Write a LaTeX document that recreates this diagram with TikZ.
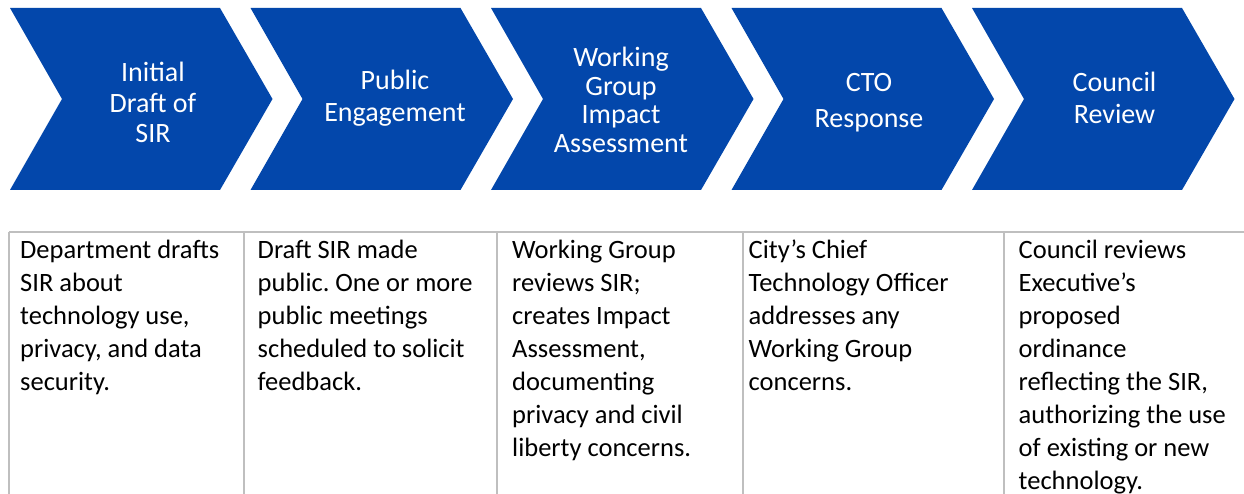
\documentclass[tikz,border=0pt]{standalone}
\usepackage{fontspec}
\setmainfont{Carlito}
\usepackage{tikz}
\usepackage{xcolor}
\frenchspacing

\definecolor{chevblue}{RGB}{3,71,171}
\definecolor{rulegray}{RGB}{191,191,191}

\tikzset{
  chev/.style={fill=chevblue},
  chevtext/.style={text=white,align=center,inner sep=0pt,anchor=base,
    font=\fontsize{28}{30.5}\selectfont},
  celltext/.style={text=black,align=left,inner sep=0pt,anchor=base west,
    font=\fontsize{26.5}{33}\selectfont},
  cellrule/.style={draw=rulegray,line width=1.6pt}
}

\begin{document}
\begin{tikzpicture}[x=1pt,y=-1pt]
  \useasboundingbox (0,0) rectangle (1244,494);

  \path[chev] (10,8) -- ++(210,0) -- ++(52.5,91) -- ++(-52.5,91)
    -- ++(-210,0) -- ++(52,-91) -- cycle;
  \path[chev] (250.5,8) -- ++(210,0) -- ++(52.5,91) -- ++(-52.5,91)
    -- ++(-210,0) -- ++(52,-91) -- cycle;
  \path[chev] (491,8) -- ++(210,0) -- ++(52.5,91) -- ++(-52.5,91)
    -- ++(-210,0) -- ++(52,-91) -- cycle;
  \path[chev] (731.5,8) -- ++(210,0) -- ++(52.5,91) -- ++(-52.5,91)
    -- ++(-210,0) -- ++(52,-91) -- cycle;
  \path[chev] (972,8) -- ++(210,0) -- ++(52.5,91) -- ++(-52.5,91)
    -- ++(-210,0) -- ++(52,-91) -- cycle;

  \node (sir) [chevtext] at (153,143) {Initial\\Draft of\\SIR};
  \node (pub) [chevtext] at (395,121.7) {Public\\[1.5pt]Engagement};
  \node (wg) [chevtext] at (621,152.5) {Working\\[-2pt]Group\\[-2pt]Impact\\[-2pt]Assessment};
  \node (cto) [chevtext] at (869,128) {CTO\\[5.5pt]Response};
  \node (cr) [chevtext] at (1114.5,123.7) {Council\\[1.5pt]Review};

  \draw[cellrule] (9,232) -- (1244,232);
  \draw[cellrule] (9,232) -- (9,494);
  \draw[cellrule] (244,232) -- (244,494);
  \draw[cellrule] (497,232) -- (497,494);
  \draw[cellrule] (743,232) -- (743,494);
  \draw[cellrule] (1004,232) -- (1004,494);

  \node (dsir) [celltext] at (20,390.5)
    {Department drafts\\SIR about\\technology use,\\privacy, and data\\security.};
  \node (dpub) [celltext] at (257.5,390.5)
    {Draft SIR made\\public. One or more\\public meetings\\scheduled to solicit\\feedback.};
  \node (dwg) [celltext] at (512,456.5)
    {Working Group\\reviews SIR;\\creates Impact\\Assessment,\\documenting\\privacy and civil\\liberty concerns.};
  \node (dcto) [celltext] at (748.5,390.5)
    {City’s Chief\\Technology Officer\\addresses any\\Working Group\\concerns.};
  \node (dcr) [celltext] at (1018.5,489.5)
    {Council reviews\\Executive’s\\proposed\\ordinance\\reflecting the SIR,\\authorizing the use\\of existing or new\\technology.};
\end{tikzpicture}
\end{document}
